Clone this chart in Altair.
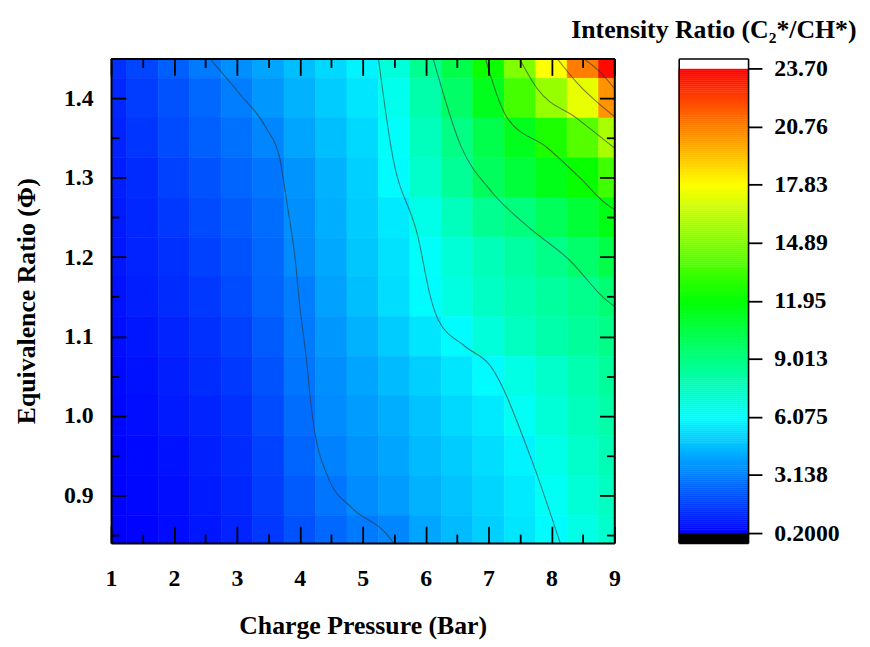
import altair as alt
import pandas as pd

# ---------------- data ----------------
pressure = [1, 1.5, 2, 2.5, 3, 3.5, 4, 4.5, 5, 5.5, 6, 6.5, 7, 7.5, 8, 8.5, 9]
phi = [1.45, 1.40, 1.35, 1.30, 1.25, 1.20, 1.15, 1.10, 1.05, 1.00, 0.95, 0.90, 0.85]

ratio_145 = [1.3, 1.8, 2.4, 3.0, 3.5, 4.0, 4.6, 5.2, 5.8, 6.9, 8.6, 10.3, 12.2, 14.9, 17.8, 20.8, 23.5]
ratio_140 = [1.1, 1.6, 2.1, 2.6, 3.1, 3.7, 4.3, 4.9, 5.5, 6.5, 8.0, 9.6, 11.3, 13.5, 15.4, 17.3, 20.3]
ratio_135 = [1.0, 1.4, 1.9, 2.4, 2.8, 3.3, 4.0, 4.6, 5.2, 6.2, 7.6, 8.9, 10.2, 11.3, 12.6, 13.9, 15.8]
ratio_130 = [0.9, 1.2, 1.7, 2.1, 2.5, 2.9, 3.6, 4.3, 5.0, 6.0, 7.3, 8.5, 9.8, 10.6, 11.4, 12.1, 13.4]
ratio_125 = [0.8, 1.1, 1.5, 1.9, 2.3, 2.7, 3.5, 4.2, 4.9, 5.6, 6.6, 7.6, 8.6, 9.1, 9.9, 10.7, 11.5]
ratio_120 = [0.7, 1.0, 1.3, 1.7, 2.1, 2.6, 3.4, 4.1, 4.8, 5.4, 6.2, 7.0, 7.7, 8.2, 8.8, 9.5, 10.3]
ratio_115 = [0.6, 0.9, 1.2, 1.5, 1.9, 2.5, 3.1, 3.9, 4.6, 5.3, 6.0, 6.8, 7.4, 7.9, 8.3, 8.7, 9.3]
ratio_110 = [0.5, 0.7, 1.0, 1.3, 1.7, 2.3, 3.0, 3.7, 4.3, 4.9, 5.5, 6.0, 6.9, 7.5, 8.0, 8.4, 8.8]
ratio_105 = [0.4, 0.6, 0.9, 1.2, 1.5, 2.1, 2.9, 3.5, 4.0, 4.5, 5.0, 5.5, 6.0, 6.7, 7.3, 7.9, 8.4]
ratio_100 = [0.35, 0.5, 0.8, 1.0, 1.3, 1.9, 2.7, 3.4, 3.8, 4.2, 4.7, 5.2, 5.6, 6.3, 7.0, 7.6, 8.1]
ratio_095 = [0.3, 0.4, 0.6, 0.9, 1.2, 1.7, 2.5, 3.2, 3.6, 4.0, 4.5, 4.9, 5.3, 5.8, 6.6, 7.3, 7.8]
ratio_090 = [0.25, 0.35, 0.5, 0.8, 1.1, 1.6, 2.3, 2.9, 3.4, 3.8, 4.3, 4.7, 5.1, 5.6, 6.3, 7.0, 7.5]
ratio_085 = [0.2, 0.3, 0.45, 0.7, 1.0, 1.5, 2.1, 2.6, 3.0, 3.3, 4.0, 4.5, 5.0, 5.5, 6.0, 6.7, 7.3]
ratio_rows = [ratio_145, ratio_140, ratio_135, ratio_130, ratio_125, ratio_120, ratio_115,
              ratio_110, ratio_105, ratio_100, ratio_095, ratio_090, ratio_085]

# contour lines (levels at the colour-bar ticks)
lvl_3138_x = [2.57, 3.05, 3.47, 3.68, 3.79, 3.94, 3.99, 4.1, 4.2, 4.46, 4.83, 5.36, 5.49]
lvl_3138_y = [1.45, 1.405, 1.362, 1.325, 1.271, 1.188, 1.146, 1.075, 1.0, 0.921, 0.884, 0.853, 0.84]
lvl_6075_x = [5.25, 5.46, 5.88, 6.09, 6.2, 6.62, 7.03, 7.66, 8.14]
lvl_6075_y = [1.45, 1.334, 1.225, 1.146, 1.121, 1.088, 1.063, 0.95, 0.84]
lvl_9013_x = [6.12, 6.56, 7.03, 7.57, 8.29, 8.87, 9.0]
lvl_9013_y = [1.45, 1.34, 1.284, 1.242, 1.196, 1.146, 1.138]
lvl_1195_x = [6.95, 7.3, 7.93, 8.45, 8.87, 9.0]
lvl_1195_y = [1.45, 1.375, 1.338, 1.3, 1.267, 1.26]
lvl_1489_x = [7.49, 7.77, 8.4, 9.0]
lvl_1489_y = [1.45, 1.4125, 1.375, 1.3375]
lvl_1783_x = [8.09, 8.4, 9.0]
lvl_1783_y = [1.45, 1.42, 1.377]
lvl_2076_x = [8.51, 8.76, 9.0]
lvl_2076_y = [1.45, 1.434, 1.4125]
contour_levels = {
    "3.138": (lvl_3138_x, lvl_3138_y),
    "6.075": (lvl_6075_x, lvl_6075_y),
    "9.013": (lvl_9013_x, lvl_9013_y),
    "11.95": (lvl_1195_x, lvl_1195_y),
    "14.89": (lvl_1489_x, lvl_1489_y),
    "17.83": (lvl_1783_x, lvl_1783_y),
    "20.76": (lvl_2076_x, lvl_2076_y),
}

x_major = [1, 2, 3, 4, 5, 6, 7, 8, 9]
x_minor = [1.5, 2.5, 3.5, 4.5, 5.5, 6.5, 7.5, 8.5]
y_major = [0.9, 1.0, 1.1, 1.2, 1.3, 1.4]
y_minor = [0.85, 0.95, 1.05, 1.15, 1.25, 1.35, 1.45]
cbar_ticks = [0.2, 3.138, 6.075, 9.013, 11.95, 14.89, 17.83, 20.76, 23.7]

cmap_domain = [-0.3, 0.15, 0.2, 6.075, 11.95, 17.825, 23.7, 23.75, 24.2]
cmap_range = ["#000000", "#000000", "#0000ff", "#00ffff", "#00ff00", "#ffff00",
              "#ff0000", "#ffffff", "#ffffff"]

# ---------------- tables ----------------
heat = pd.DataFrame(
    [{"p": xv, "phi": yv, "v": v}
     for yv, row in zip(phi, ratio_rows)
     for xv, v in zip(pressure, row)]
)
lines = pd.DataFrame(
    [{"level": name, "i": i, "p": xv, "phi": yv}
     for name, (xs, ys) in contour_levels.items()
     for i, (xv, yv) in enumerate(zip(xs, ys))]
)

FONT = "Liberation Serif"
LBL = 24
TTL = 26
W, H = 508, 489

x_scale = alt.Scale(domain=[1, 9], nice=False, zero=False)
y_scale = alt.Scale(domain=[0.84, 1.45], nice=False, zero=False)
c_scale = alt.Scale(domain=cmap_domain, range=cmap_range, interpolate="rgb")


def tick_axis(orient, values, size, labels=False, domain=False, **kw):
    return alt.Axis(
        orient=orient, values=values, tickSize=alt.ExprRef(expr=str(-size)),
        tickColor="black", tickWidth=1.8, grid=False, zindex=1,
        domain=domain, domainColor="black", domainWidth=2,
        labels=labels, labelFont=FONT, labelFontWeight="bold", labelFontSize=LBL,
        labelColor="black", labelFlush=False, labelOverlap=False,
        titleFont=FONT, titleFontWeight="bold", titleFontSize=TTL, titleColor="black",
        **kw,
    )


ax_bottom = tick_axis("bottom", x_major, 17, labels=True, domain=True, format="d",
                      labelPadding=17 + 24, title="Charge Pressure (Bar)", titlePadding=22)
ax_left = tick_axis("left", y_major, 15, labels=True, domain=True, format=".1f",
                    labelPadding=15 + 18, title="Equivalence Ratio (Φ)", titlePadding=24)

heat_layer = alt.Chart(heat).transform_calculate(
    p0="datum.p - 0.25", p1="datum.p + 0.25",
    f0="datum.phi - 0.025", f1="datum.phi + 0.025",
).mark_rect(clip=True, strokeWidth=0.6).encode(
    x=alt.X("p0:Q", scale=x_scale, axis=ax_bottom),
    x2="p1:Q",
    y=alt.Y("f0:Q", scale=y_scale, axis=ax_left),
    y2="f1:Q",
    color=alt.Color("v:Q", scale=c_scale, legend=None),
    stroke=alt.Stroke("v:Q", scale=c_scale, legend=None),
)

line_layer = alt.Chart(lines).mark_line(
    clip=True, color="#333333", strokeWidth=1.1, opacity=0.6, interpolate="monotone"
).encode(
    x=alt.X("p:Q", scale=x_scale, axis=tick_axis("top", x_major, 17, domain=True, title=None)),
    y=alt.Y("phi:Q", scale=y_scale, axis=tick_axis("right", y_major, 15, domain=True, title=None)),
    detail="level:N",
    order="i:Q",
)

minor_a = alt.Chart(heat).mark_point(opacity=0).encode(
    x=alt.X("p:Q", scale=x_scale, axis=tick_axis("bottom", x_minor, 9, title=None)),
    y=alt.Y("phi:Q", scale=y_scale, axis=tick_axis("left", y_minor, 8, title=None)),
)
minor_b = alt.Chart(heat).mark_point(opacity=0).encode(
    x=alt.X("p:Q", scale=x_scale, axis=tick_axis("top", x_minor, 9, title=None)),
    y=alt.Y("phi:Q", scale=y_scale, axis=tick_axis("right", y_minor, 8, title=None)),
)

main = alt.layer(heat_layer, line_layer, minor_a, minor_b).resolve_axis(
    x="independent", y="independent"
).properties(width=W, height=H)

# ---------------- colour bar ----------------
cb_x_scale = alt.Scale(domain=[0, 1], nice=False, zero=False)
cb_y_scale = alt.Scale(domain=[-0.3, 24.2], nice=False, zero=False)


def frame_axis(orient, **kw):
    return alt.Axis(orient=orient, labels=False, ticks=False, grid=False, zindex=1,
                    domain=True, domainColor="black", domainWidth=1.6, **kw)


cbar_base = alt.Chart(alt.sequence(-0.3, 24.2, 0.1, as_="v")).transform_calculate(
    v2="datum.v + 0.1", vc="datum.v + 0.05", c0="0", c1="1"
)

cbar_rect = cbar_base.mark_rect(strokeWidth=0.5).encode(
    x=alt.X("c0:Q", scale=cb_x_scale,
            axis=frame_axis("top", title="Intensity Ratio (C₂*/CH*)", titleFont=FONT,
                            titleFontWeight="bold", titleFontSize=TTL, titleColor="black",
                            titlePadding=16)),
    x2="c1:Q",
    y=alt.Y("v:Q", scale=cb_y_scale,
            axis=alt.Axis(orient="right", values=cbar_ticks, format=".4r", tickSize=14,
                          tickWidth=1.8, tickColor="black", zindex=1,
                          domain=True, domainColor="black", domainWidth=1.6, grid=False,
                          labelFont=FONT, labelFontWeight="bold", labelFontSize=LBL,
                          labelColor="black", labelPadding=12, labelOverlap=False,
                          labelFlush=False, title=None)),
    y2="v2:Q",
    color=alt.Color("vc:Q", scale=c_scale, legend=None),
    stroke=alt.Stroke("vc:Q", scale=c_scale, legend=None),
)

cbar_frame = cbar_base.mark_point(opacity=0).encode(
    x=alt.X("c0:Q", scale=cb_x_scale, axis=frame_axis("bottom", title=None)),
    y=alt.Y("v:Q", scale=cb_y_scale, axis=frame_axis("left", title=None)),
)

cbar = alt.layer(cbar_rect, cbar_frame).resolve_axis(
    x="independent", y="independent"
).properties(width=70, height=H)

chart = alt.hconcat(main, cbar, spacing=65, bounds="flush").configure_view(
    stroke=None
).configure(background="white")

chart.save("out.html", embed_options={"renderer": "svg", "actions": False})
